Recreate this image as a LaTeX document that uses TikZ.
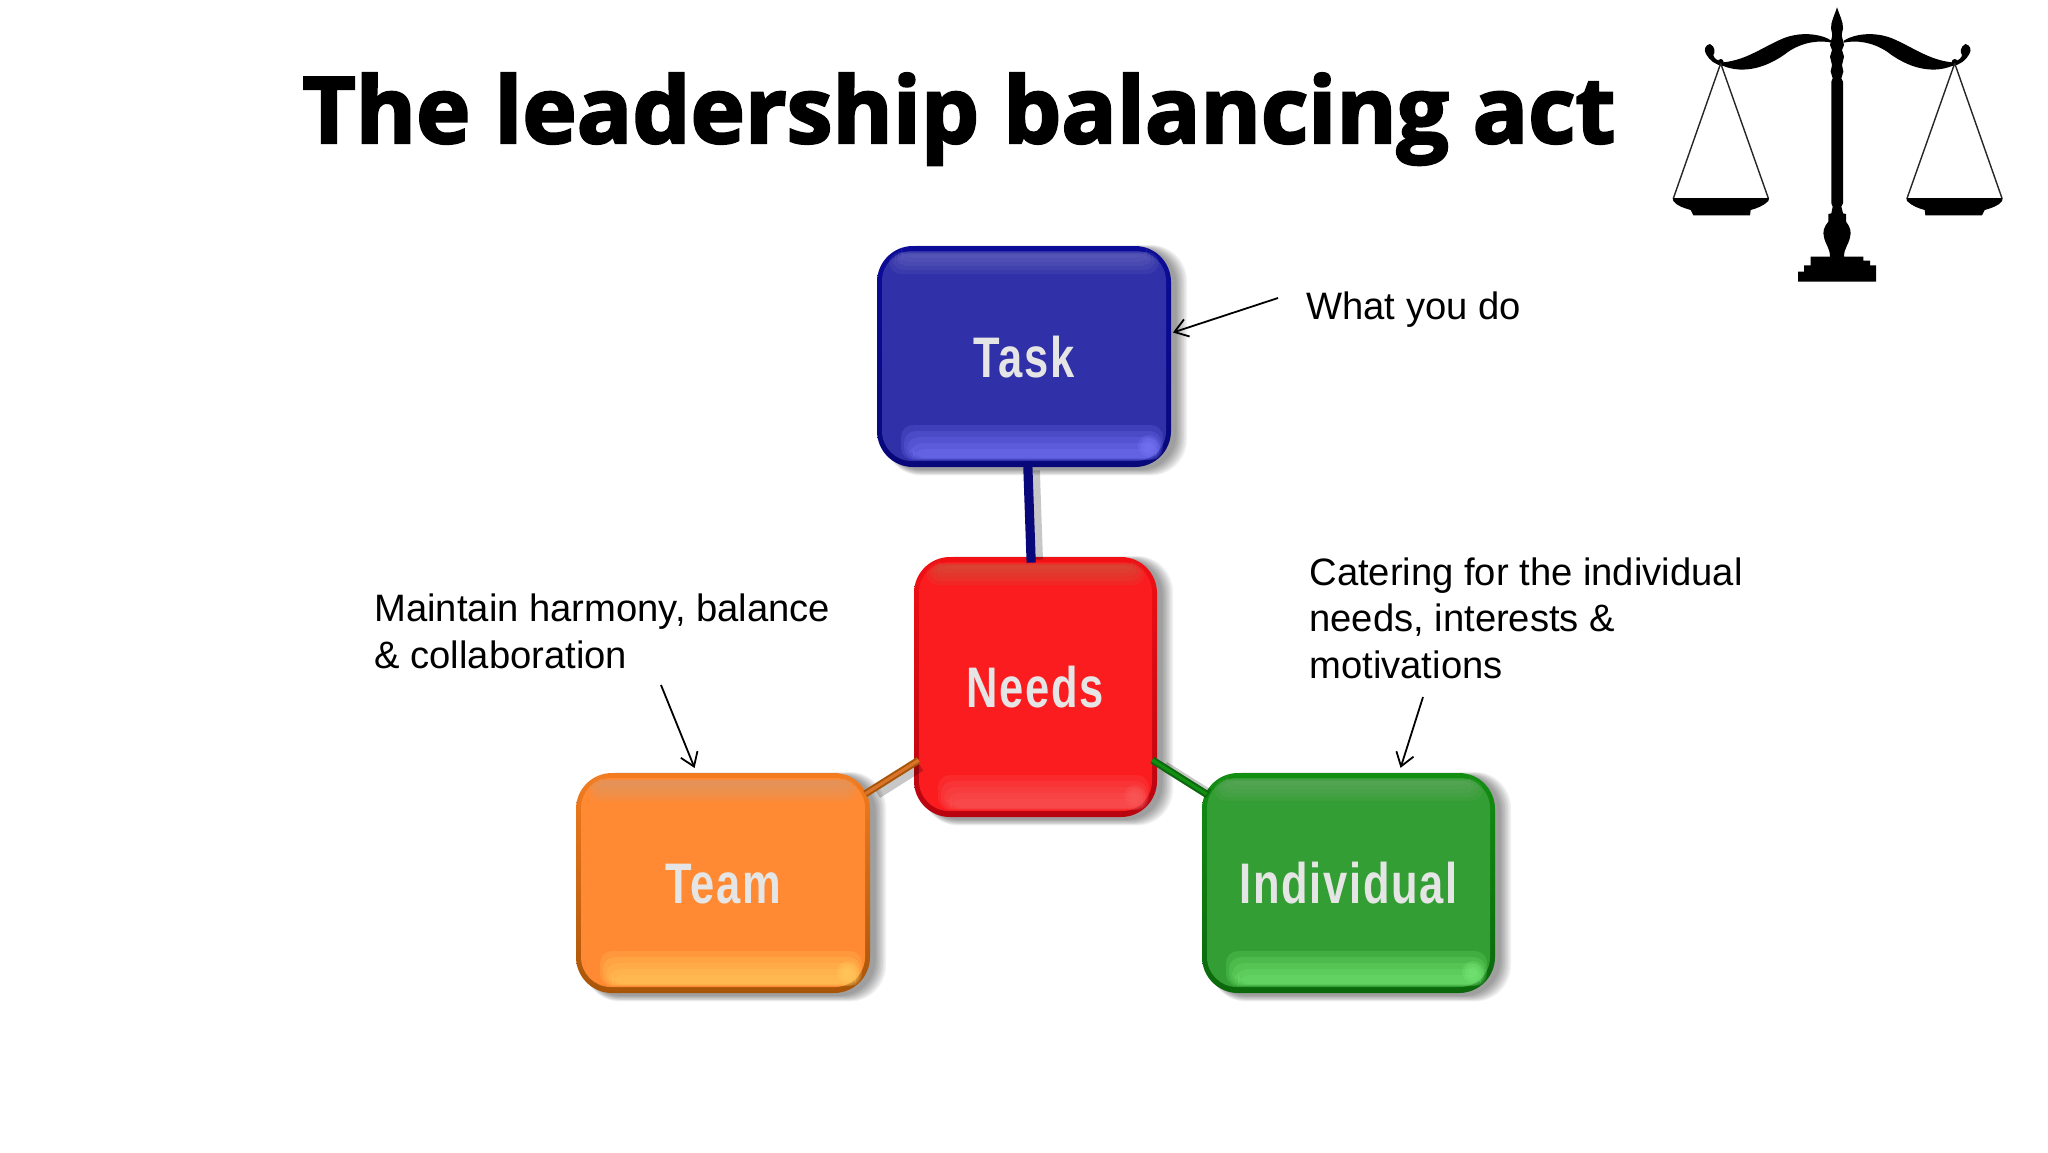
\documentclass[tikz,border=0pt]{standalone}
\usepackage{fontspec}
\setmainfont{Liberation Sans}
\newfontfamily\titlefont[BoldFeatures={FakeBold=2.6}]{Open Sans}
\newfontfamily\labelfont[FakeStretch=0.76,LetterSpace=3]{Liberation Sans}
\usetikzlibrary{arrows.meta,calc}
\definecolor{blueA}{HTML}{0C0C98}\definecolor{blueB}{HTML}{08087A}\definecolor{blueF}{HTML}{3030A8}\definecolor{blueT}{HTML}{6A6AC0}\definecolor{blueL}{HTML}{7C7CFF}
\definecolor{redA}{HTML}{F21014}\definecolor{redB}{HTML}{B80410}\definecolor{redF}{HTML}{FB1C20}\definecolor{redT}{HTML}{C85A40}\definecolor{redL}{HTML}{F86060}
\definecolor{orangeA}{HTML}{F47C20}\definecolor{orangeB}{HTML}{A85508}\definecolor{orangeF}{HTML}{FF8A33}\definecolor{orangeT}{HTML}{D89A70}\definecolor{orangeL}{HTML}{FFD060}
\definecolor{greenA}{HTML}{128E12}\definecolor{greenB}{HTML}{0B680C}\definecolor{greenF}{HTML}{339E33}\definecolor{greenT}{HTML}{66A866}\definecolor{greenL}{HTML}{7CEE7C}
\tikzset{
  note/.style={font=\fontsize{19.1}{23.2}\selectfont,anchor=base west,inner sep=0pt,align=left,text=black},
  boxlabel/.style={font=\labelfont\bfseries\fontsize{28.6}{30}\selectfont,text=black!10,rectangle,inner sep=0pt,text height=20.5pt,text depth=0pt},
  pointer/.style={draw=black,line width=0.9pt,-{Straight Barb[length=6.5pt,width=9pt,line width=0.9pt]}},
  link/.style={line width=#1,shorten <=-3pt,shorten >=-3pt},
  linkshadow/.style={draw=black,opacity=.22,line width=5pt,transform canvas={xshift=3.5pt,yshift=-1.5pt}},
  ink/.style={fill=black,draw=none},
  rope/.style={draw=black!85,line width=0.7pt}
}
\newcommand{\bevelbox}[6]{%
\begin{scope}[shift={(#2,#3)}]
  \foreach \s in {1,...,8}{
    \fill[black,opacity=.055,rounded corners=18pt]
      (-#4+8,-#5+3-\s*0.5) rectangle (#4+4+\s*1.5,#5+2+\s*0.8);
  }
  \shade[top color=#6A,bottom color=#6B,rounded corners=18pt] (-#4,-#5) rectangle (#4,#5);
  \fill[#6F,rounded corners=15pt] (-#4+5,-#5+5) rectangle (#4-5,#5-6);
  \foreach \k in {0,...,4}{
    \fill[#6T,opacity=.18,rounded corners=6pt] (-#4+12+\k*3,-#5+6+\k*0.5) rectangle (#4-12-\k*3,-#5+28-\k*4);
    \fill[#6L,opacity=.2,rounded corners=6pt] (-#4+24+\k*3,#5-42+\k*6) rectangle (#4-8-\k*1.5,#5-7-\k*0.5);
  }
  \foreach \r in {5,8,11}{\fill[#6L,opacity=.25] (#4-22,#5-21) circle[radius=\r];}
  \node[rectangle,inner sep=0pt,minimum width=2*#4*0.5pt,minimum height=2*#5*0.5pt] (#1) at (0,0) {};
\end{scope}}
\begin{document}
\begin{tikzpicture}[x=0.5pt,y=-0.5pt]
\useasboundingbox (0,0) rectangle (2048,1152);
\fill[white] (0,0) rectangle (2048,1152);
% title
\node[font=\titlefont\bfseries\fontsize{46}{50}\selectfont,anchor=base west,inner sep=0pt] (title) at (302,143) {The leadership balancing act};
% boxes
\bevelbox{task}{1024}{356.5}{147}{110.5}{blue}
\bevelbox{needs}{1035.5}{687}{121.5}{130}{red}
\bevelbox{team}{723}{883}{147}{110}{orange}
\bevelbox{individual}{1348.5}{883}{146.5}{110}{green}
\node[boxlabel] (tasklabel) at (task.center) {Task};
\node[boxlabel] (needslabel) at (needs.center) {Needs};
\node[boxlabel] (teamlabel) at (team.center) {Team};
\node[boxlabel] (individuallabel) at (individual.center) {Individual};
% connectors
\draw[linkshadow] (task) -- (needs);
\draw[linkshadow] (team) -- (needs);
\draw[linkshadow] (individual) -- (needs);
\draw[link=4.6pt,draw=blueB] (task) -- (needs);
\draw[link=1pt,draw=orangeB,double=orangeF!85!black,double distance=1.6pt] (team) -- (needs);
\draw[link=1pt,draw=greenB,double=greenA,double distance=1.6pt] (individual) -- (needs);
% notes
\node[note] (doNote) at (1306,319) {What you do};
\node[note] (harmonyA) at (374,668) {Maintain harmony, balance\\\& collaboration};
\node[note] (cateringA) at (1309,678) {Catering for the individual\\needs, interests \&\\motivations};
% pointers
\coordinate (p1) at (1278,298);
\coordinate (p2) at (661,685);
\coordinate (p3) at (1423,697);
\draw[pointer,shorten >=0.8pt] (p1) -- ($(task.north east)!0.394!(task.south east)$);
\draw[pointer,shorten >=2.5pt] (p2) -- ($(team.north west)!0.41!(team.north east)$);
\draw[pointer,shorten >=2.5pt] (p3) -- ($(individual.north west)!0.672!(individual.north east)$);
% balance scale
\begin{scope}[xshift=830pt,x=0.16667pt,y=-0.16667pt]
  % pole and base
  \fill[ink] (531,22) .. controls (538,45) and (550,65) .. (549,85) .. controls (548,95) and (542,105) .. (548,118)
    -- (552,135) -- (546,150) -- (552,170) -- (546,195) -- (550,215) -- (544,235) -- (549,245)
    -- (549,610) -- (544,620) -- (549,640) -- (558,642) -- (558,665)
    .. controls (570,680) and (575,695) .. (570,712) .. controls (565,735) and (552,745) .. (552,770)
    -- (610,770) -- (610,782) -- (630,782) -- (630,796) -- (648,796) -- (648,845)
    -- (414,845) -- (414,815) -- (432,815) -- (432,796) -- (452,796) -- (452,770)
    -- (510,770) .. controls (510,745) and (497,735) .. (492,712) .. controls (487,695) and (492,680) .. (505,665)
    -- (505,642) -- (514,640) -- (518,620) -- (514,610)
    -- (514,245) -- (518,235) -- (512,215) -- (516,195) -- (510,170) -- (516,150) -- (510,135) -- (514,118)
    .. controls (520,105) and (514,95) .. (513,85) .. controls (512,65) and (524,45) .. (531,22) -- cycle;
  % left and right arm
  \foreach \m in {0,1}{
    \begin{scope}[shift={(\m*1066,0)},xscale={1-2*\m}]
      \fill[ink] (515,122) .. controls (480,100) and (420,95) .. (370,115)
        .. controls (310,140) and (260,180) .. (190,187)
        .. controls (170,183) and (160,172) .. (160,165)
        .. controls (166,158) and (166,140) .. (150,132)
        .. controls (136,134) and (130,150) .. (138,162)
        .. controls (148,180) and (165,195) .. (190,198)
        .. controls (250,222) and (320,205) .. (385,155)
        .. controls (430,125) and (480,120) .. (515,128) -- cycle;
      \fill[ink] (182,186) circle[radius=9];
      \draw[rope] (182,190) -- (40,595) (182,190) -- (325,595);
      \fill[ink] (38,594) -- (327,594) -- (325,603) .. controls (310,618) and (290,625) .. (272,630)
        -- (270,646) -- (100,646) -- (92,630) .. controls (75,625) and (50,618) .. (40,603) -- cycle;
    \end{scope}
  }
\end{scope}
\end{tikzpicture}
\end{document}
